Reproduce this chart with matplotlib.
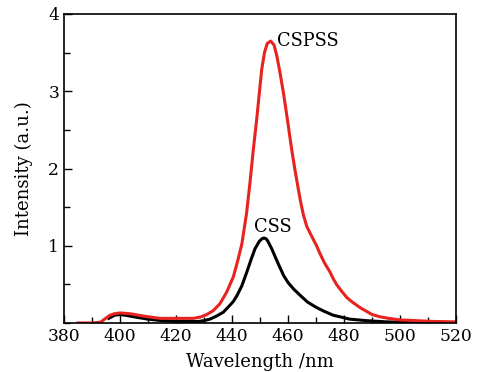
import matplotlib
matplotlib.use("Agg")
import matplotlib.pyplot as plt
from matplotlib.ticker import MultipleLocator

# CSPSS (red) emission spectrum
cspss_nm = [385, 390, 393, 396.4, 398, 400, 403.6, 408.3, 414.3, 419, 426.2,
            429, 431, 433.3, 435.7, 438.1, 440.5, 442, 443.5, 445.2, 446.4,
            447.6, 448.8, 450.6, 451.6, 452.6, 453.8, 455.0, 456.0, 457.1,
            458.5, 459.8, 461.3, 462.5, 463.5, 464.5, 465.5, 466.7, 468.5,
            470.2, 471.4, 473, 475, 476.2, 477.5, 479.2, 481, 483, 485.7,
            488.1, 490, 492.9, 496, 500, 506, 511.9, 520]
cspss_int = [0.0, 0.0, 0.01, 0.1, 0.12, 0.13, 0.12, 0.09, 0.06, 0.06, 0.06,
             0.08, 0.11, 0.16, 0.25, 0.4, 0.6, 0.8, 1.02, 1.42, 1.81,
             2.24, 2.63, 3.28, 3.5, 3.62, 3.65, 3.6, 3.46, 3.25,
             2.95, 2.63, 2.25, 1.98, 1.77, 1.57, 1.4, 1.25, 1.12,
             1.0, 0.9, 0.78, 0.66, 0.57, 0.49, 0.41, 0.33, 0.27, 0.2,
             0.15, 0.11, 0.08, 0.06, 0.04, 0.03, 0.02, 0.015]

# CSS (black) emission spectrum
css_nm = [396, 398, 400, 402, 405, 410, 415, 420, 425, 428, 430, 432.1,
          434.5, 436.9, 439, 440.5, 441.7, 443.5, 445.2, 446.8, 448.2, 449.8,
          450.7, 451.4, 452.2, 452.8, 454.2, 455.5, 457.1, 458.5, 460.1, 462,
          464.3, 467, 470.2, 473, 476.2, 478.6, 482, 488.1, 495, 500, 520]
css_int = [0.06, 0.1, 0.11, 0.1, 0.08, 0.05, 0.03, 0.02, 0.02, 0.02, 0.03,
           0.05, 0.09, 0.14, 0.22, 0.28, 0.35, 0.48, 0.65, 0.82, 0.96, 1.06,
           1.09, 1.10, 1.09, 1.06, 0.96, 0.85, 0.72, 0.61, 0.52, 0.44,
           0.36, 0.27, 0.2, 0.15, 0.1, 0.08, 0.05, 0.03, 0.015, 0.01, 0.0]

plt.rcParams['font.family'] = ['DejaVu Serif']

fig = plt.figure(figsize=(4.87, 3.72), dpi=100)
ax = fig.add_axes([64 / 487, 1 - 323 / 372, 392 / 487, 309 / 372])

ax.plot(css_nm, css_int, color='black', lw=2.2, solid_joinstyle='round')
ax.plot(cspss_nm, cspss_int, color='#e8231f', lw=2.2, solid_joinstyle='round')

ax.text(456.2, 3.65, 'CSPSS', fontsize=12.8, ha='left', va='center')
ax.text(454.5, 1.24, 'CSS', fontsize=12.8, ha='center', va='center')

ax.set_xlim(380, 520)
ax.set_ylim(0, 4)
ax.set_xticks([380, 400, 420, 440, 460, 480, 500, 520])
ax.set_yticks([1, 2, 3, 4])
ax.xaxis.set_minor_locator(MultipleLocator(10))
ax.yaxis.set_minor_locator(MultipleLocator(0.5))
ax.tick_params(which='both', direction='in', labelsize=12.3)
ax.tick_params(which='major', length=6, width=1)
ax.tick_params(which='minor', length=4, width=1)
for s in ax.spines.values():
    s.set_linewidth(1.2)

ax.set_xlabel('Wavelength /nm', fontsize=13, labelpad=6)
ax.set_ylabel('Intensity (a.u.)', fontsize=13, labelpad=11)

fig.savefig('out.png', dpi=100)
